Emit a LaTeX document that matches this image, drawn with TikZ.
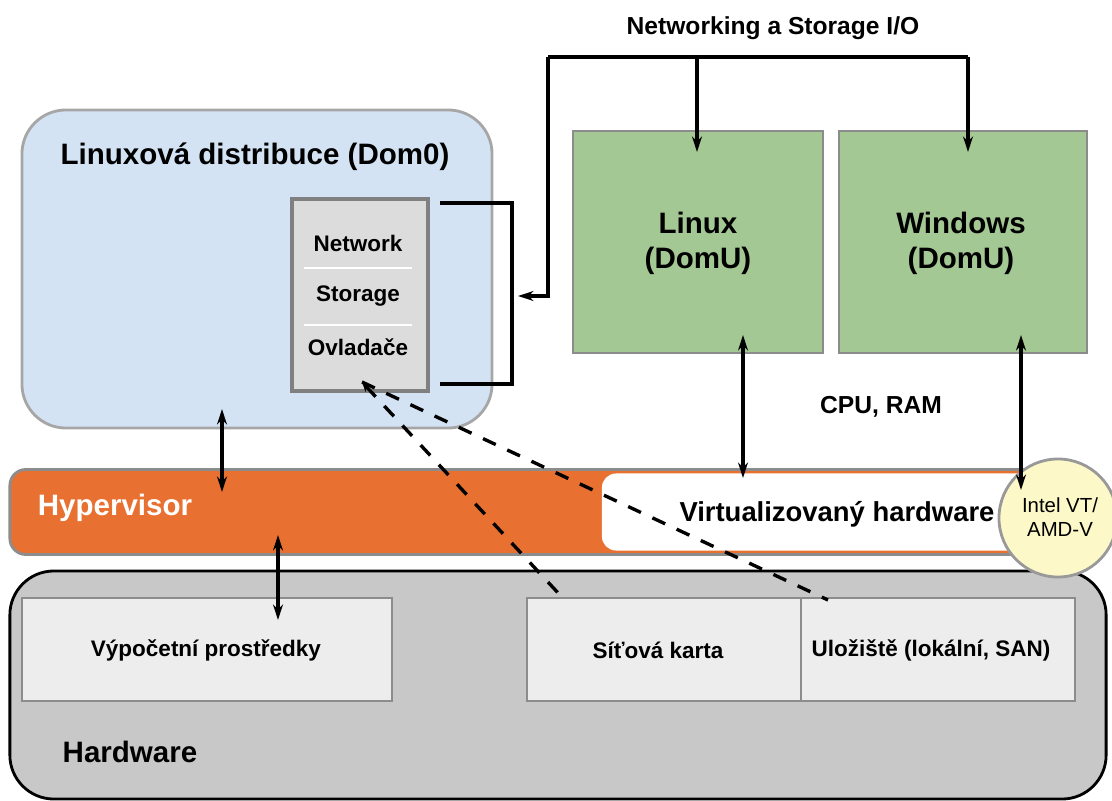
\documentclass[tikz,border=0pt]{standalone}
\usepackage{fontspec}
\setmainfont{Liberation Sans}
\usetikzlibrary{calc}
\usetikzlibrary{arrows.meta}
\definecolor{domblue}{RGB}{211,227,244}
\definecolor{domgreen}{RGB}{164,200,148}
\definecolor{hyporange}{RGB}{232,112,48}
\definecolor{vtyellow}{RGB}{252,248,200}
\definecolor{hwgray}{RGB}{200,200,200}
\definecolor{partgray}{RGB}{237,237,237}
\definecolor{drvgray}{RGB}{220,220,220}
\definecolor{edgegray}{RGB}{140,140,140}

\begin{document}
\begin{tikzpicture}[x=0.025cm,y=-0.025cm,
  box/.style={draw=edgegray,line width=2pt,inner sep=0pt},
  big/.style={font=\fontsize{21}{25}\selectfont\bfseries},
  mid/.style={font=\fontsize{16}{19}\selectfont\bfseries},
  wire/.style={line width=2.2pt},
  link/.style={wire,-{Stealth[length=11pt,width=7pt]}},
  both/.style={wire,{Stealth[length=11pt,width=7pt]}-{Stealth[length=11pt,width=7pt]}},
  dashlink/.style={line width=2.4pt,dash pattern=on 10pt off 9pt}]
\useasboundingbox (0,0) rectangle (1112,801);

% Dom0 and its drivers
\node[box,fill=domblue,draw=gray!70,rounded corners=1.1cm,minimum width=11.75cm,minimum height=7.95cm] (dom0) at (257,269) {};
\node[big] (dom0txt) at (255,157) {Linuxová distribuce (Dom0)};
\node[box,fill=drvgray,draw=gray,line width=2.5pt,minimum width=3.4cm,minimum height=4.8cm] (drv) at (360,295) {};
\node[mid] (net) at (358,243) {Network};
\node[mid] (stor) at (358,296) {Storage};
\node[mid] (ovl) at (358,347) {Ovladače};
\draw[white,line width=1.5pt] (304,268) -- (412,268);
\draw[white,line width=1.5pt] (304,325) -- (412,325);

% DomU guests
\node[box,fill=domgreen,minimum width=6.25cm,minimum height=5.55cm] (linux) at (698,242) {};
\node[big,align=center] (linuxtxt) at (698,243) {Linux\\(DomU)};
\node[box,fill=domgreen,minimum width=6.2cm,minimum height=5.55cm] (win) at (963,242) {};
\node[big,align=center] (wintxt) at (961,243) {Windows\\(DomU)};

\node[font=\fontsize{17.5}{21}\selectfont\bfseries] (io) at (773,28) {Networking a Storage I/O};
\node[font=\fontsize{17.5}{21}\selectfont\bfseries] (cpu) at (881,407) {CPU, RAM};

% hypervisor
\node[box,fill=hyporange,rounded corners=0.4cm,minimum width=26.1cm,minimum height=2.125cm] (hyp) at (532,512) {};
\node[big,white] (hyptxt) at (115,508) {Hypervisor};
\node[fill=white,rounded corners=0.35cm,inner sep=0pt,minimum width=11.1cm,minimum height=1.925cm] (vhw) at (824,512) {};
\node[font=\fontsize{19.5}{23}\selectfont\bfseries] (vhwtxt) at (837,514) {Virtualizovaný hardware};

% hardware
\node[draw,line width=2pt,fill=hwgray,rounded corners=1.1cm,inner sep=0pt,minimum width=27.4cm,minimum height=5.7cm] (hw) at (558,685) {};
\node[big] (hwtxt) at (130,752) {Hardware};
\node[box,fill=partgray,minimum width=9.25cm,minimum height=2.575cm] (cmp) at (207,649.5) {};
\node[mid] (cmptxt) at (206,650) {Výpočetní prostředky};
\node[box,fill=partgray,minimum width=6.85cm,minimum height=2.575cm] (nic) at (664,649.5) {};
\node[mid] (nictxt) at (658,650) {Síťová karta};
\node[box,fill=partgray,minimum width=6.85cm,minimum height=2.575cm] (sto) at (938,649.5) {};
\node[mid] (stotxt) at (931,650) {Uložiště (lokální, SAN)};

\node[circle,draw=gray!80,line width=2pt,fill=vtyellow,minimum size=2.95cm,inner sep=0pt] (vt) at (1058,518) {};
\node[align=center,font=\fontsize{14.5}{17.5}\selectfont] (vttxt) at (1060,517) {Intel VT/\\AMD-V};

% I/O paths
\coordinate (b1) at (440,203);
\coordinate (b2) at (512,203);
\coordinate (b3) at (512,384);
\coordinate (b4) at (440,384);
\draw[wire] (b1) -- (b2) -- (b3) -- (b4);
\coordinate (bus) at (548,57);
\coordinate (brk) at (518,296);
\draw[link] (bus) |- (brk);
\draw[wire] (bus) -- (968,57);
\draw[link] (697,57) -- (697,152);
\draw[link] (968,57) -- (968,152);

% CPU, RAM
\draw[both] (743,335) -- (743,478);
\draw[both] (1021,335) -- (1021,490);
\draw[both] (222,409) -- (222,492);
\draw[both] (278,535) -- (278,620);

% drivers to devices
\coordinate (d0) at (362,382);
\draw[dashlink,{Stealth[length=7pt,width=6pt,open]}-] (d0) -- (560,595);
\draw[dashlink] (d0) -- (828,600);
\end{tikzpicture}
\end{document}
